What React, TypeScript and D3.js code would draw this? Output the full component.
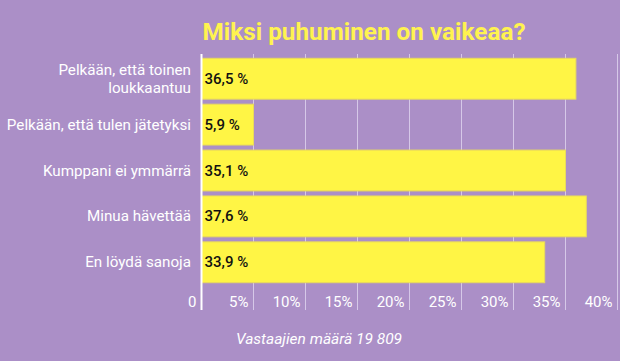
import React from 'react'
import * as d3 from 'd3'

const title = 'Miksi puhuminen on vaikeaa?'
const caption = 'Vastaajien määrä 19 809'

// categories, top to bottom (\n = line break)
const categories = [
  'Pelkään, että toinen\nloukkaantuu',
  'Pelkään, että tulen jätetyksi',
  'Kumppani ei ymmärrä',
  'Minua hävettää',
  'En löydä sanoja',
]
// values printed on the bars
const valueLabels = ['36,5 %', '5,9 %', '35,1 %', '37,6 %', '33,9 %']
// bar lengths as drawn in the picture (percent)
const barValues = [36.0, 5.0, 35.0, 37.0, 33.0]
const ticks = [0, 5, 10, 15, 20, 25, 30, 35, 40]

const width = 620
const height = 361
const bg = '#ab8fc7'
const yellow = '#fff545'

const App: React.FC = () => {
  const x = d3.scaleLinear().domain([0, 40]).range([201.5, 617.5])
  const y = d3
    .scaleBand<string>()
    .domain(categories)
    .range([56, 285])
    .paddingInner(0.11)
    .paddingOuter(0.05)

  const font = 'Roboto, "Noto Sans", sans-serif'

  return (
    <div style={{ position: 'fixed', left: 0, top: 0 }}>
      <svg width={width} height={height} style={{ display: 'block' }}>
        <rect width={width} height={height} fill={bg} />
        <text
          x={364}
          y={39.5}
          textAnchor="middle"
          fill="#fff34f"
          fontFamily={font}
          fontWeight={700}
          fontSize={24}
          textLength={323}
          lengthAdjust="spacingAndGlyphs"
        >
          {title}
        </text>

        {/* gridlines */}
        {ticks.slice(1).map((t) => (
          <line
            key={t}
            x1={x(t)}
            x2={x(t)}
            y1={54}
            y2={310}
            stroke="#d6c8e8"
            strokeWidth={1}
          />
        ))}

        {/* bars */}
        {categories.map((c, i) => (
          <rect
            key={c}
            x={x(0)}
            y={y(c)}
            width={x(barValues[i]) - x(0)}
            height={y.bandwidth()}
            fill={yellow}
            stroke="#e9da5c"
            strokeWidth={1}
          />
        ))}

        {/* axis line */}
        <line x1={x(0)} x2={x(0)} y1={54} y2={310} stroke="#ffffff" strokeWidth={2} />

        {/* value labels */}
        {categories.map((c, i) => (
          <text
            key={c}
            x={x(0) + 3}
            y={(y(c) ?? 0) + y.bandwidth() / 2 + 5}
            fill="#111"
            fontFamily={font}
            fontWeight={500}
            fontSize={15}
          >
            {valueLabels[i]}
          </text>
        ))}

        {/* category labels */}
        {categories.map((c) => {
          const lines = c.split('\n')
          const cy = (y(c) ?? 0) + y.bandwidth() / 2
          const lh = 18
          return (
            <text
              key={c}
              textAnchor="end"
              fill="#ffffff"
              fontFamily={font}
              fontSize={15.2}
            >
              {lines.map((l, j) => (
                <tspan
                  key={j}
                  x={191}
                  y={cy + 5 + (j - (lines.length - 1) / 2) * lh}
                >
                  {l}
                </tspan>
              ))}
            </text>
          )
        })}

        {/* tick labels */}
        {ticks.map((t) => (
          <text
            key={t}
            x={x(t) - 5}
            y={307}
            textAnchor="end"
            fill="#ffffff"
            fontFamily={font}
            fontSize={15}
          >
            {t === 0 ? '0' : `${t}%`}
          </text>
        ))}

        <text
          x={319}
          y={344}
          textAnchor="middle"
          fill="#ffffff"
          fontFamily={font}
          fontStyle="italic"
          fontSize={15.5}
        >
          {caption}
        </text>
      </svg>
    </div>
  )
}

export default App
